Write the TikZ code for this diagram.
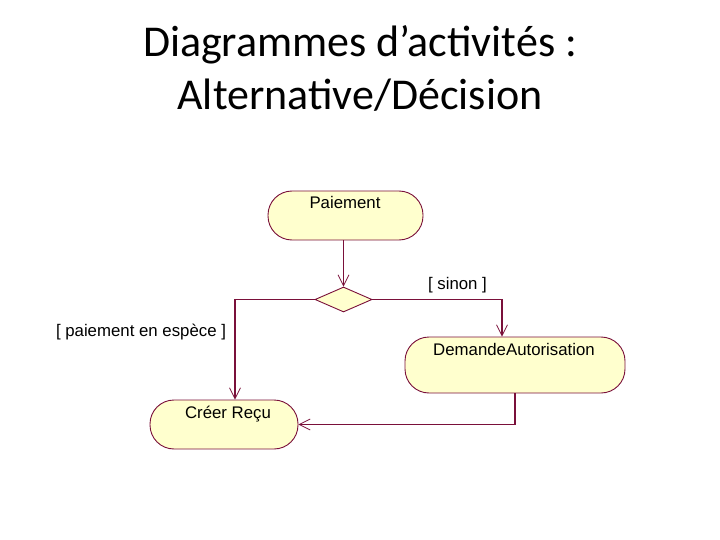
\documentclass[tikz,border=0pt]{standalone}
\usepackage{fontspec}
\setmainfont{Carlito}
\newfontfamily\umlfont{Liberation Sans}
\usetikzlibrary{arrows.meta,shapes.geometric}
\definecolor{umlline}{RGB}{122,16,58}
\definecolor{umlfill}{RGB}{255,255,206}
\tikzset{
  activity/.style={draw=umlline, fill=umlfill, line width=0.9pt, rounded corners=24pt, inner sep=0pt},
  decision/.style={draw=umlline, fill=umlfill, line width=0.9pt, diamond, inner sep=0pt, minimum width=57pt, minimum height=25pt, aspect=2.3},
  flow/.style={draw=umlline, line width=1.4pt, -{Straight Barb[length=11pt,width=11pt,line width=0.7pt]}},
  guard/.style={font=\umlfont\fontsize{16.8}{18}\selectfont, inner sep=0pt, anchor=base},
  acttext/.style={font=\umlfont\fontsize{16.8}{18}\selectfont, inner sep=0pt, anchor=base},
  title/.style={font=\fontsize{44}{50}\selectfont, inner sep=0pt, anchor=base}
}
\begin{document}
\begin{tikzpicture}[x=1pt,y=-1pt]
\useasboundingbox (0,0) rectangle (720,540);
\node[title] (t1) at (360,57) {Diagrammes d’activités :};
\node[title] (t2) at (360,110) {Alternative/Décision};

\node[activity, minimum width=155pt, minimum height=49pt] (pay) at (345.5,215.5) {};
\node[acttext] (payt) at (345,209) {Paiement};

\node[decision] (dec) at (343.5,299.5) {};

\node[activity, minimum width=220pt, minimum height=56pt] (dem) at (515,365) {};
\node[acttext] (demt) at (514,355) {DemandeAutorisation};

\node[activity, minimum width=148pt, minimum height=49pt] (rec) at (224,424.5) {};
\node[acttext] (rect) at (228,418) {Créer Reçu};

\node[guard] (g1) at (457.5,289) {[ sinon ]};
\node[guard] (g2) at (141,336) {[ paiement en espèce ]};

\draw[flow] (pay.south -| dec.north) -- (dec.north);
\draw[flow] (dec.west) -| ([xshift=11pt]rec.north);
\draw[flow] (dec.east) -| ([xshift=-13pt]dem.north);
\draw[flow] (dem.south) |- (rec.east);
\end{tikzpicture}
\end{document}
